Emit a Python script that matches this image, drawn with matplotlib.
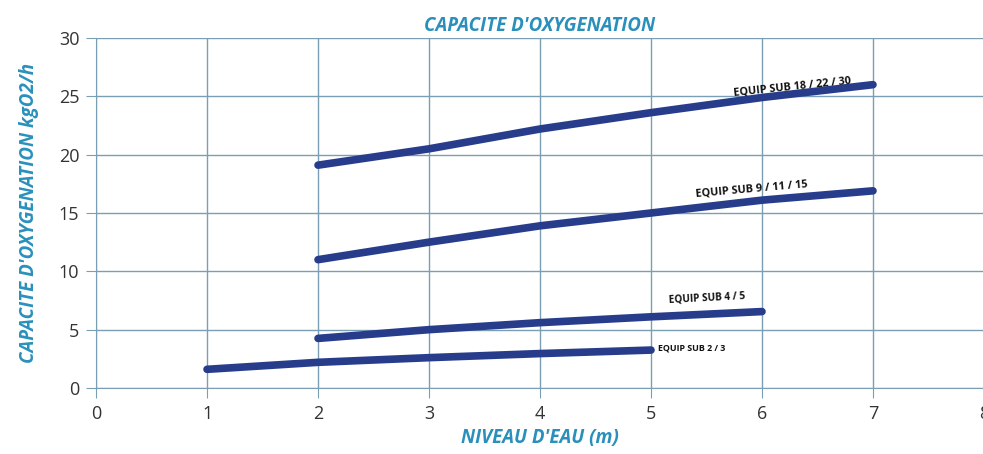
import matplotlib
matplotlib.use("Agg")
import matplotlib.pyplot as plt

# niveau d'eau (m) et capacite d'oxygenation (kgO2/h)
x_sub_18 = [2, 3, 4, 5, 6, 7]
y_sub_18 = [19.1, 20.5, 22.2, 23.6, 24.9, 26.0]
x_sub_9 = [2, 3, 4, 5, 6, 7]
y_sub_9 = [11.0, 12.5, 13.9, 15.0, 16.1, 16.9]
x_sub_4 = [2, 3, 4, 5, 6]
y_sub_4 = [4.25, 5.0, 5.6, 6.1, 6.55]
x_sub_2 = [1, 2, 3, 4, 5]
y_sub_2 = [1.6, 2.2, 2.6, 2.95, 3.25]

labels = ["EQUIP SUB 18 / 22 / 30", "EQUIP SUB 9 / 11 / 15", "EQUIP SUB 4 / 5", "EQUIP SUB 2 / 3"]
xticks = [0, 1, 2, 3, 4, 5, 6, 7, 8]
yticks = [0, 5, 10, 15, 20, 25, 30]

BLUE_TXT = "#2a90bb"
LINE_COL = "#283c8c"
GRID_COL = "#7a9fb5"

plt.rcParams['font.family'] = ['Open Sans', 'DejaVu Sans']

fig = plt.figure(figsize=(9.83, 4.54), dpi=100)
ax = fig.add_axes([0.0977, 0.1454, 0.9033, 0.7709])

for xs, ys in [(x_sub_18, y_sub_18), (x_sub_9, y_sub_9), (x_sub_4, y_sub_4), (x_sub_2, y_sub_2)]:
    ax.plot(xs, ys, color=LINE_COL, lw=5.5, solid_capstyle="round", zorder=3)

# etiquettes des courbes
ax.text(6.27, 25.8, labels[0], fontsize=7.8, fontweight="bold", rotation=6, ha="center", va="center", color="#111")
ax.text(5.91, 17.05, labels[1], fontsize=7.8, fontweight="bold", rotation=5, ha="center", va="center", color="#111")
ax.text(5.5, 7.75, labels[2], fontsize=7.2, fontweight="bold", rotation=3, ha="center", va="center", color="#111")
ax.text(5.06, 3.4, labels[3], fontsize=6.4, fontweight="bold", ha="left", va="center", color="#111")

ax.set_xlim(0, 8)
ax.set_ylim(0, 30)
ax.set_xticks(xticks)
ax.set_yticks(yticks)
ax.grid(True, color=GRID_COL, lw=1)
ax.set_axisbelow(True)
for s in ["top", "right"]:
    ax.spines[s].set_visible(False)
for s in ["left", "bottom"]:
    ax.spines[s].set_color(GRID_COL)
ax.tick_params(direction="out", length=7, color=GRID_COL, labelsize=13, labelcolor="#333", pad=5)

ax.set_title("CAPACITE D'OXYGENATION", fontsize=13.5, fontweight="bold", style="italic", color=BLUE_TXT, pad=5)
ax.set_xlabel("NIVEAU D'EAU (m)", fontsize=13.5, fontweight="bold", style="italic", color=BLUE_TXT, labelpad=4)
ax.set_ylabel("CAPACITE D'OXYGENATION kgO2/h", fontsize=13.5, fontweight="bold", style="italic", color=BLUE_TXT, labelpad=14)

fig.savefig("out.png", dpi=100)
